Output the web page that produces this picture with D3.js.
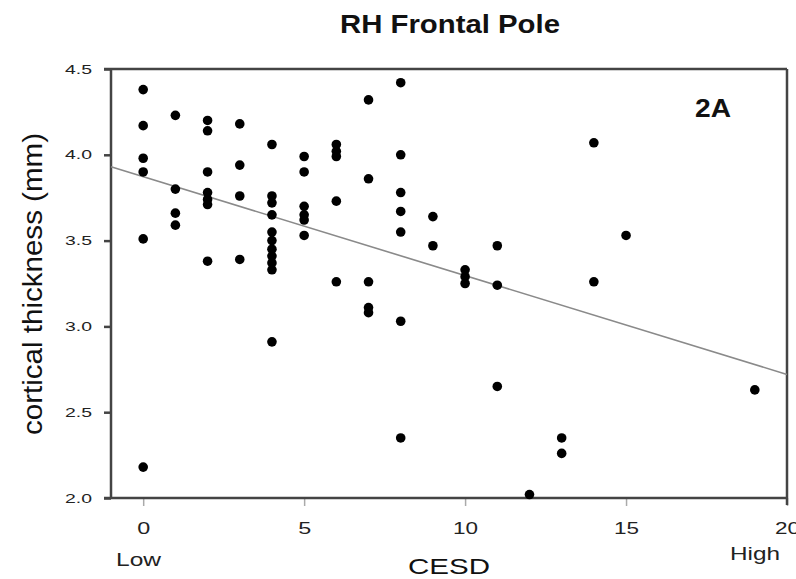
<!DOCTYPE html>
<html>
<head>
<meta charset="utf-8">
<script src="https://cdn.jsdelivr.net/npm/d3@7.9.0/dist/d3.min.js"></script>
<style>
  body { margin: 0; background: #fff; }
  svg { display: block; font-family: 'Liberation Sans', Arial, sans-serif; }
</style>
</head>
<body>
<div id="chart"></div>
<script>
// CESD score for each subject (x) and RH frontal pole cortical thickness in mm (y)
const cesd = [
  0, 0, 0, 0, 0, 0,
  1, 1, 1, 1,
  2, 2, 2, 2, 2, 2, 2,
  3, 3, 3, 3,
  4, 4, 4, 4, 4, 4, 4, 4, 4, 4, 4,
  5, 5, 5, 5, 5, 5,
  6, 6, 6, 6, 6,
  7, 7, 7, 7, 7,
  8, 8, 8, 8, 8, 8, 8,
  9, 9,
  10, 10, 10,
  11, 11, 11,
  12,
  13, 13,
  14, 14,
  15,
  19
];
const thickness = [
  4.38, 4.17, 3.98, 3.90, 3.51, 2.18,
  4.23, 3.80, 3.66, 3.59,
  4.20, 4.14, 3.90, 3.78, 3.74, 3.71, 3.38,
  4.18, 3.94, 3.76, 3.39,
  4.06, 3.76, 3.72, 3.65, 3.55, 3.50, 3.45, 3.41, 3.37, 3.33, 2.91,
  3.99, 3.90, 3.70, 3.65, 3.62, 3.53,
  4.06, 4.02, 3.99, 3.73, 3.26,
  4.32, 3.86, 3.26, 3.11, 3.08,
  4.42, 4.00, 3.78, 3.67, 3.55, 3.03, 2.35,
  3.64, 3.47,
  3.33, 3.29, 3.25,
  3.47, 3.24, 2.65,
  2.02,
  2.35, 2.26,
  4.07, 3.26,
  3.53,
  2.63
];

// fitted regression line, end points
const fitX = [-1, 20];
const fitY = [3.93, 2.72];

const xTicks = [0, 5, 10, 15, 20];
const yTicks = [2.0, 2.5, 3.0, 3.5, 4.0, 4.5];

const width = 796;
const height = 579;
const margin = { top: 69, right: 9, bottom: 81, left: 111 };
const usableArea = {
  top: margin.top,
  right: width - margin.right,
  bottom: height - margin.bottom,
  left: margin.left,
};

const svg = d3.select('#chart')
  .append('svg')
  .attr('width', width)
  .attr('height', height);

const xScale = d3.scaleLinear()
  .domain([-1, 20])
  .range([usableArea.left, usableArea.right]);

const yScale = d3.scaleLinear()
  .domain([2, 4.5])
  .range([usableArea.bottom, usableArea.top]);

// Y axis
svg.append('g')
  .attr('transform', `translate(${usableArea.left}, 0)`)
  .call(d3.axisLeft(yScale).tickValues(yTicks).tickFormat(d3.format('.1f')).tickSize(7).tickPadding(12))
  .call((g) => g.select('.domain').remove())
  .call((g) => g.selectAll('.tick line').attr('stroke', '#444').attr('stroke-width', 2.5))
  .call((g) => g.selectAll('.tick text')
    .attr('fill', '#222')
    .style('font-size', '13px')
    .attr('textLength', 27)
    .attr('lengthAdjust', 'spacingAndGlyphs'));

// X axis
svg.append('g')
  .attr('transform', `translate(0, ${usableArea.bottom})`)
  .call(d3.axisBottom(xScale).tickValues(xTicks).tickSize(8).tickPadding(17))
  .call((g) => g.select('.domain').remove())
  .call((g) => g.selectAll('.tick line').attr('stroke', '#aaa').attr('stroke-width', 1.5))
  .call((g) => g.selectAll('.tick text')
    .attr('fill', '#222')
    .style('font-size', '16px')
    .attr('textLength', (d) => (d >= 10 ? 25 : 13))
    .attr('lengthAdjust', 'spacingAndGlyphs'));

// frame around plot area
const frame = svg.append('g')
  .attr('stroke', '#444')
  .attr('stroke-width', 2.5)
  .attr('fill', 'none');
frame.append('line')
  .attr('x1', usableArea.left - 7).attr('x2', usableArea.right)
  .attr('y1', usableArea.top).attr('y2', usableArea.top);
frame.append('line')
  .attr('x1', usableArea.left - 7).attr('x2', usableArea.right)
  .attr('y1', usableArea.bottom).attr('y2', usableArea.bottom);
frame.append('line')
  .attr('x1', usableArea.left).attr('x2', usableArea.left)
  .attr('y1', usableArea.top).attr('y2', usableArea.bottom);
frame.append('line')
  .attr('x1', usableArea.right).attr('x2', usableArea.right)
  .attr('y1', usableArea.top).attr('y2', usableArea.bottom + 7);

// regression line
svg.append('path')
  .datum(d3.zip(fitX, fitY))
  .attr('fill', 'none')
  .attr('stroke', '#8a8a8a')
  .attr('stroke-width', 1.6)
  .attr('d', d3.line().x((d) => xScale(d[0])).y((d) => yScale(d[1])));

// points
svg.append('g')
  .attr('class', 'dots')
  .selectAll('circle')
  .data(d3.zip(cesd, thickness))
  .join('circle')
  .attr('cx', (d) => xScale(d[0]))
  .attr('cy', (d) => yScale(d[1]))
  .attr('r', 4.8)
  .attr('fill', '#000');

// title and labels
svg.append('text')
  .attr('x', 450).attr('y', 33)
  .attr('text-anchor', 'middle')
  .attr('font-weight', 'bold')
  .style('font-size', '25px')
  .attr('fill', '#111')
  .attr('textLength', 220)
  .attr('lengthAdjust', 'spacingAndGlyphs')
  .text('RH Frontal Pole');

svg.append('text')
  .attr('x', 713).attr('y', 117)
  .attr('text-anchor', 'middle')
  .attr('font-weight', 'bold')
  .style('font-size', '25px')
  .attr('fill', '#111')
  .attr('textLength', 36)
  .attr('lengthAdjust', 'spacingAndGlyphs')
  .text('2A');

svg.append('text')
  .attr('transform', 'translate(42, 284) rotate(-90)')
  .attr('text-anchor', 'middle')
  .style('font-size', '27px')
  .attr('fill', '#111')
  .attr('textLength', 302)
  .attr('lengthAdjust', 'spacingAndGlyphs')
  .text('cortical thickness (mm)');

svg.append('text')
  .attr('x', 449).attr('y', 574)
  .attr('text-anchor', 'middle')
  .style('font-size', '22px')
  .attr('fill', '#111')
  .attr('textLength', 82)
  .attr('lengthAdjust', 'spacingAndGlyphs')
  .text('CESD');

svg.append('text')
  .attr('x', 116).attr('y', 566)
  .style('font-size', '19px')
  .attr('fill', '#222')
  .attr('textLength', 45)
  .attr('lengthAdjust', 'spacingAndGlyphs')
  .text('Low');

svg.append('text')
  .attr('x', 730).attr('y', 560)
  .style('font-size', '18px')
  .attr('fill', '#222')
  .attr('textLength', 50)
  .attr('lengthAdjust', 'spacingAndGlyphs')
  .text('High');
</script>
</body>
</html>
